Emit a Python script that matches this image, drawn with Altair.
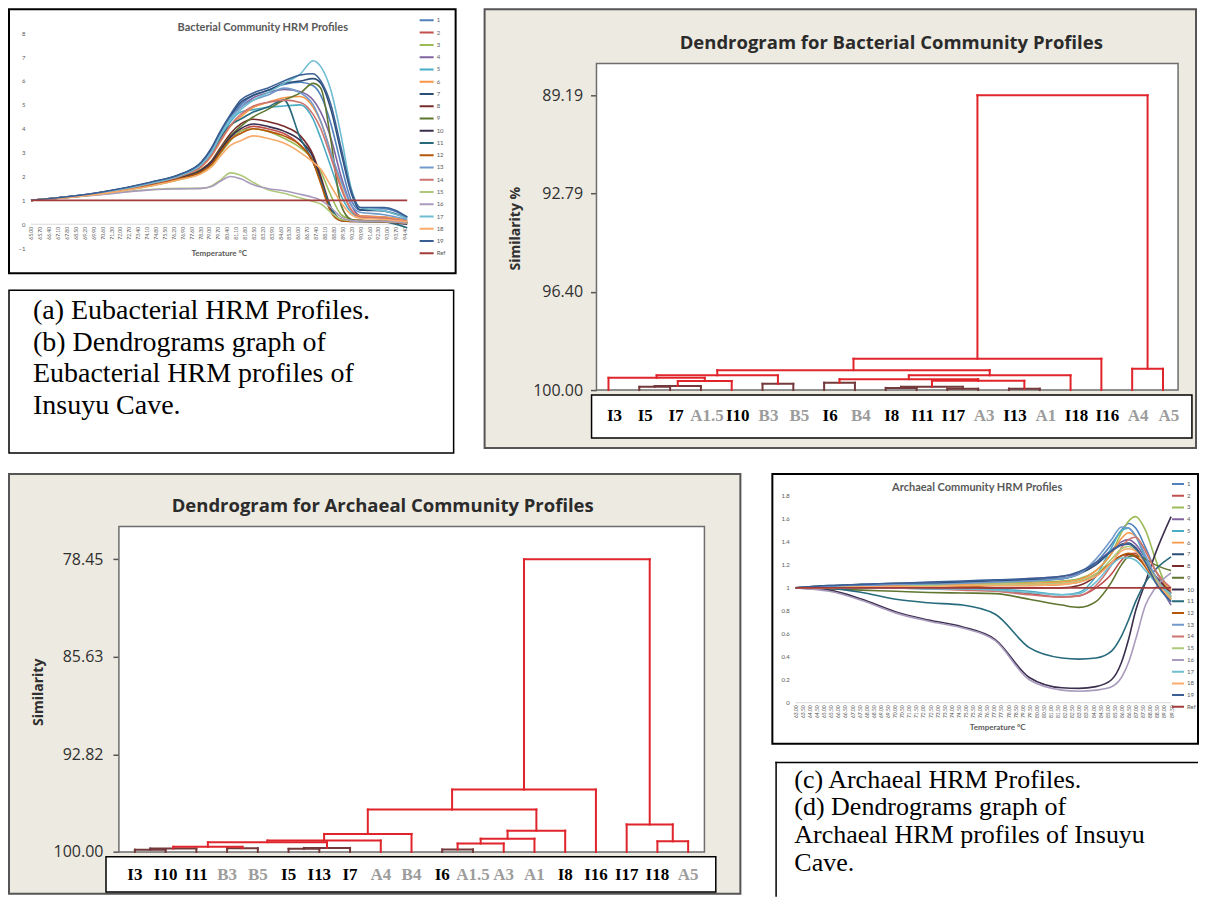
import altair as alt
import pandas as pd

# ------------------------------------------------------------------ series / colours
SERIES = ["1", "2", "3", "4", "5", "6", "7", "8", "9", "10",
          "11", "12", "13", "14", "15", "16", "17", "18", "19", "Ref"]
SERIES_COLORS = ["#4F81BD", "#C0504D", "#9BBB59", "#8064A2", "#4BACC6", "#F79646",
                 "#2C4D75", "#772C2A", "#5F7530", "#3B2F4E", "#276A7C", "#B65708",
                 "#729ACA", "#CD7371", "#AFC97A", "#A99BBD", "#6FBDD1", "#F9AB6B",
                 "#3A5F95", "#A33B3B"]

# ------------------------------------------------------------------ (a) Bacterial HRM profiles
TEMP_A = [65.0, 70.5, 74.4, 76.8, 78.4, 79.2, 79.9, 80.7, 81.5, 82.5, 83.6,
          84.9, 86.2, 87.2, 87.8, 88.6, 89.4, 90.2, 90.9, 92.8, 94.6]
BAC_1 = [1.0, 1.33, 1.74, 2.08, 2.55, 3.1, 3.8, 4.5, 5.0, 5.4, 5.6, 5.85, 5.95, 5.8, 5.4, 4.2, 2.5, 1.0, 0.6, 0.65, 0.3]
BAC_2 = [1.0, 1.28, 1.62, 1.92, 2.2, 2.5, 3.0, 3.55, 3.9, 4.1, 4.0, 3.8, 3.3, 2.6, 1.8, 0.6, 0.2, 0.15, 0.15, 0.12, 0.08]
BAC_3 = [1.0, 1.27, 1.6, 1.88, 2.15, 2.45, 2.95, 3.5, 3.9, 4.0, 3.9, 3.6, 3.2, 2.7, 2.2, 1.2, 0.4, 0.2, 0.15, 0.12, 0.05]
BAC_4 = [1.0, 1.33, 1.73, 2.06, 2.52, 3.05, 3.75, 4.45, 4.9, 5.3, 5.5, 5.65, 5.55, 5.2, 4.7, 3.6, 2.0, 0.8, 0.35, 0.3, 0.15]
BAC_5 = [1.0, 1.3, 1.7, 2.02, 2.45, 2.95, 3.6, 4.3, 4.7, 4.8, 4.9, 4.95, 5.0, 4.4, 3.6, 2.4, 1.2, 0.5, 0.3, 0.25, 0.1]
BAC_6 = [1.0, 1.3, 1.68, 2.0, 2.4, 2.85, 3.45, 4.1, 4.5, 4.9, 5.1, 5.3, 5.35, 4.9, 4.3, 3.0, 1.6, 0.6, 0.35, 0.3, 0.15]
BAC_7 = [1.0, 1.34, 1.75, 2.1, 2.58, 3.15, 3.85, 4.55, 5.1, 5.4, 5.6, 5.9, 6.0, 6.1, 5.9, 4.8, 3.0, 1.3, 0.6, 0.55, 0.25]
BAC_8 = [1.0, 1.3, 1.66, 1.96, 2.3, 2.65, 3.2, 3.8, 4.2, 4.4, 4.3, 4.1, 3.7, 2.9, 2.0, 0.7, 0.2, 0.15, 0.15, 0.12, 0.05]
BAC_9 = [1.0, 1.29, 1.65, 1.95, 2.28, 2.6, 3.15, 3.7, 4.1, 4.5, 4.8, 5.2, 5.5, 5.9, 5.7, 3.5, 0.8, 0.2, 0.15, 0.12, 0.05]
BAC_10 = [1.0, 1.3, 1.65, 1.95, 2.25, 2.6, 3.1, 3.65, 4.0, 4.2, 4.1, 3.9, 3.5, 2.8, 1.9, 0.6, 0.15, 0.12, 0.12, 0.1, 0.0]
BAC_11 = [1.0, 1.31, 1.7, 2.02, 2.45, 2.95, 3.6, 4.15, 4.4, 4.7, 4.9, 5.2, 3.6, 2.6, 1.8, 0.7, 0.2, 0.15, 0.12, 0.1, -0.15]
BAC_12 = [1.0, 1.28, 1.63, 1.92, 2.2, 2.5, 3.0, 3.55, 3.8, 4.0, 3.9, 3.7, 3.3, 2.6, 1.7, 0.5, 0.15, 0.12, 0.12, 0.1, 0.05]
BAC_13 = [1.0, 1.32, 1.72, 2.05, 2.5, 3.05, 3.75, 4.45, 4.9, 5.2, 5.4, 5.7, 5.5, 5.0, 4.3, 3.0, 1.8, 0.8, 0.5, 0.4, 0.2]
BAC_14 = [1.0, 1.31, 1.7, 2.02, 2.42, 2.9, 3.5, 4.15, 4.6, 4.95, 5.1, 5.2, 5.1, 4.6, 4.0, 2.8, 1.5, 0.6, 0.3, 0.25, 0.1]
BAC_15 = [1.0, 1.25, 1.45, 1.5, 1.5, 1.6, 1.85, 2.15, 2.05, 1.75, 1.45, 1.3, 1.1, 0.95, 0.85, 0.5, 0.2, 0.15, 0.12, 0.12, 0.05]
BAC_16 = [1.0, 1.24, 1.44, 1.48, 1.5, 1.58, 1.8, 2.0, 1.9, 1.65, 1.5, 1.4, 1.25, 1.12, 1.0, 0.7, 0.3, 0.15, 0.12, 0.12, 0.05]
BAC_17 = [1.0, 1.32, 1.72, 2.05, 2.5, 3.0, 3.7, 4.4, 4.8, 5.2, 5.5, 5.9, 6.3, 6.85, 6.6, 5.6, 3.7, 1.5, 0.7, 0.55, 0.25]
BAC_18 = [1.0, 1.27, 1.6, 1.88, 2.12, 2.4, 2.85, 3.3, 3.5, 3.7, 3.6, 3.4, 3.0, 2.6, 2.3, 1.6, 0.9, 0.4, 0.25, 0.2, 0.1]
BAC_19 = [1.0, 1.34, 1.76, 2.1, 2.6, 3.2, 3.9, 4.6, 5.2, 5.5, 5.7, 6.0, 6.25, 6.3, 6.0, 5.0, 3.2, 1.4, 0.7, 0.7, 0.3]
BAC_REF = [1.0, 1.0, 1.0, 1.0, 1.0, 1.0, 1.0, 1.0, 1.0, 1.0, 1.0, 1.0, 1.0, 1.0, 1.0, 1.0, 1.0, 1.0, 1.0, 1.0, 1.0]
TICKS_A = [65.00, 65.70, 66.40, 67.10, 67.80, 68.50, 69.20, 69.90, 70.60, 71.30, 72.00,
           72.70, 73.40, 74.10, 74.80, 75.50, 76.20, 76.90, 77.60, 78.30, 79.00, 79.70,
           80.40, 81.10, 81.80, 82.50, 83.20, 83.90, 84.60, 85.30, 86.00, 86.70, 87.40,
           88.10, 88.80, 89.50, 90.20, 90.90, 91.60, 92.30, 93.00, 93.70, 94.40]
YTICKS_A = [-1, 0, 1, 2, 3, 4, 5, 6, 7, 8]

# ------------------------------------------------------------------ (c) Archaeal HRM profiles
TEMP_D = [63.0, 65.4, 67.7, 70.1, 72.4, 74.8, 77.1, 79.5, 81.8, 83.0, 84.2,
          85.3, 86.0, 86.5, 87.0, 87.7, 88.4, 89.5]
ARC_1 = [1.0, 1.01, 1.02, 1.03, 1.03, 1.04, 1.05, 1.06, 1.08, 1.12, 1.22, 1.38, 1.50, 1.56, 1.52, 1.35, 1.15, 0.95]
ARC_2 = [1.0, 1.0, 1.0, 1.0, 1.0, 0.99, 0.98, 0.95, 0.92, 0.93, 1.0, 1.12, 1.24, 1.29, 1.3, 1.22, 1.1, 0.97]
ARC_3 = [1.0, 1.01, 1.02, 1.02, 1.03, 1.03, 1.04, 1.05, 1.06, 1.08, 1.15, 1.30, 1.48, 1.58, 1.62, 1.50, 1.25, 0.90]
ARC_4 = [1.0, 1.01, 1.02, 1.03, 1.04, 1.05, 1.06, 1.08, 1.1, 1.13, 1.22, 1.33, 1.40, 1.42, 1.38, 1.25, 1.08, 0.85]
ARC_5 = [1.0, 1.0, 1.0, 1.0, 1.0, 1.0, 0.99, 0.97, 0.94, 0.96, 1.1, 1.35, 1.50, 1.52, 1.45, 1.25, 1.05, 0.88]
ARC_6 = [1.0, 1.01, 1.01, 1.02, 1.02, 1.03, 1.03, 1.04, 1.05, 1.07, 1.15, 1.30, 1.43, 1.48, 1.45, 1.32, 1.15, 0.98]
ARC_7 = [1.0, 1.02, 1.03, 1.04, 1.04, 1.05, 1.06, 1.07, 1.08, 1.12, 1.2, 1.32, 1.38, 1.39, 1.35, 1.22, 1.08, 0.92]
ARC_8 = [1.0, 1.0, 1.0, 1.0, 1.0, 1.0, 1.0, 1.0, 1.0, 1.02, 1.1, 1.22, 1.28, 1.29, 1.27, 1.2, 1.1, 0.95]
ARC_9 = [1.0, 0.99, 0.98, 0.97, 0.96, 0.955, 0.95, 0.9, 0.85, 0.83, 0.88, 1.05, 1.2, 1.27, 1.28, 1.25, 1.2, 1.15]
ARC_10 = [1.0, 0.98, 0.9, 0.79, 0.72, 0.66, 0.55, 0.22, 0.13, 0.125, 0.14, 0.2, 0.35, 0.55, 0.8, 1.05, 1.3, 1.62]
ARC_11 = [1.0, 0.995, 0.96, 0.9, 0.87, 0.85, 0.77, 0.48, 0.39, 0.38, 0.39, 0.45, 0.58, 0.72, 0.88, 1.05, 1.16, 1.27]
ARC_12 = [1.0, 1.0, 1.0, 1.01, 1.01, 1.01, 1.02, 1.02, 1.03, 1.05, 1.12, 1.22, 1.28, 1.3, 1.28, 1.18, 1.05, 0.9]
ARC_13 = [1.0, 1.01, 1.02, 1.03, 1.03, 1.04, 1.05, 1.06, 1.08, 1.12, 1.25, 1.42, 1.53, 1.52, 1.45, 1.28, 1.1, 0.93]
ARC_14 = [1.0, 1.0, 1.0, 1.0, 0.99, 0.98, 0.97, 0.94, 0.92, 0.93, 1.02, 1.2, 1.35, 1.42, 1.44, 1.32, 1.15, 1.0]
ARC_15 = [1.0, 1.0, 1.01, 1.01, 1.02, 1.02, 1.03, 1.03, 1.04, 1.06, 1.12, 1.25, 1.34, 1.36, 1.33, 1.22, 1.08, 0.92]
ARC_16 = [1.0, 0.97, 0.89, 0.78, 0.71, 0.65, 0.54, 0.2, 0.11, 0.1, 0.11, 0.14, 0.22, 0.35, 0.55, 0.85, 1.0, 1.13]
ARC_17 = [1.0, 1.0, 1.0, 1.0, 0.99, 0.99, 0.98, 0.96, 0.94, 0.95, 1.05, 1.2, 1.26, 1.26, 1.24, 1.15, 1.05, 0.95]
ARC_18 = [1.0, 1.0, 1.01, 1.01, 1.01, 1.02, 1.02, 1.02, 1.03, 1.05, 1.1, 1.22, 1.32, 1.34, 1.32, 1.2, 1.06, 0.9]
ARC_19 = [1.0, 1.02, 1.03, 1.04, 1.05, 1.06, 1.07, 1.08, 1.1, 1.14, 1.22, 1.32, 1.37, 1.38, 1.34, 1.22, 1.05, 0.88]
ARC_REF = [1.0, 1.0, 1.0, 1.0, 1.0, 1.0, 1.0, 1.0, 1.0, 1.0, 1.0, 1.0, 1.0, 1.0, 1.0, 1.0, 1.0, 1.0]
TICKS_D = [63.0, 63.5, 64.0, 64.5, 65.0, 65.5, 66.0, 66.5, 67.0, 67.5, 68.0, 68.5, 69.0, 69.5,
           70.0, 70.5, 71.0, 71.5, 72.0, 72.5, 73.0, 73.5, 74.0, 74.5, 75.0, 75.5, 76.0, 76.5,
           77.0, 77.5, 78.0, 78.5, 79.0, 79.5, 80.0, 80.5, 81.0, 81.5, 82.0, 82.5, 83.0, 83.5,
           84.0, 84.5, 85.0, 85.5, 86.0, 86.5, 87.0, 87.5, 88.0, 88.5, 89.0, 89.5]
YTICKS_D = [0, 0.2, 0.4, 0.6, 0.8, 1, 1.2, 1.4, 1.6, 1.8]

# ------------------------------------------------------------------ (b) Bacterial dendrogram
BAC_LEAVES = ["I3", "I5", "I7", "A1.5", "I10", "B3", "B5", "I6", "B4", "I8",
              "I11", "I17", "A3", "I13", "A1", "I18", "I16", "A4", "A5"]
BAC_LEFT = ["I5", "#0", "#1", "I3", "B3", "#3", "I6", "I8", "I17", "#7",
            "I13", "#9", "#6", "#12", "#5", "#14", "A4", "#15"]
BAC_RIGHT = ["I7", "A1.5", "I10", "#2", "B5", "#4", "B4", "I11", "A3", "#8",
             "A1", "#10", "#11", "I18", "#13", "I16", "A5", "#16"]
BAC_HEIGHT = [99.88, 99.85, 99.67, 99.55, 99.77, 99.46, 99.73, 99.92, 99.95, 99.88,
              99.95, 99.66, 99.60, 99.46, 99.27, 98.85, 99.22, 89.19]
BAC_YTICKS = [89.19, 92.79, 96.40, 100.00]

# ------------------------------------------------------------------ (d) Archaeal dendrogram
ARC_LEAVES = ["I3", "I10", "I11", "B3", "B5", "I5", "I13", "I7", "A4", "B4",
              "I6", "A1.5", "A3", "A1", "I8", "I16", "I17", "I18", "A5"]
ARC_LEFT = ["I3", "#0", "B3", "#1", "I5", "#4", "#3", "#6", "#7", "I6",
            "#9", "#10", "#11", "#8", "#13", "I18", "I17", "#14"]
ARC_RIGHT = ["I10", "I11", "B5", "#2", "I13", "I7", "#5", "A4", "B4", "A1.5",
             "A3", "A1", "I8", "#12", "I16", "A5", "#15", "#16"]
ARC_HEIGHT = [99.83, 99.75, 99.72, 99.62, 99.77, 99.70, 99.28, 99.16, 98.67, 99.82,
              99.38, 99.02, 98.43, 96.88, 95.41, 99.22, 97.97, 78.45]
ARC_YTICKS = [78.45, 85.63, 92.82, 100.00]

TEXT_AB = ["(a) Eubacterial HRM Profiles.", "(b) Dendrograms graph of",
           "Eubacterial HRM profiles of", "Insuyu Cave."]
TEXT_CD = ["(c) Archaeal HRM Profiles.", "(d) Dendrograms graph of",
           "Archaeal HRM profiles of Insuyu", "Cave."]

RED = "#E0242B"
DARK = "#74393B"
BEIGE = "#EDEAE1"
GREYTXT = "#595959"


# ------------------------------------------------------------------ helpers
def title_layer(text, x, y, font, size, color):
    return alt.Chart(pd.DataFrame({"s": [text]})).mark_text(
        font=font, fontSize=size, fontWeight="bold", color=color, align="center",
        baseline="middle").encode(x=alt.value(x), y=alt.value(y), text="s:N")


def hrm_chart(temps, table, w, h, xdom, ydom, xticks, yticks, yfmt, x_off, y_off,
              title, t_x, t_y, xt_x, xt_y, lg_x, lg_y, lg_h, lg_pad, lg_sym):
    rows = []
    for name, vals in zip(SERIES, table):
        for t, v in zip(temps, vals):
            rows.append({"series": name, "t": t, "v": v})
    df = pd.DataFrame(rows)
    xs = alt.Scale(domain=xdom, nice=False, zero=False)
    ys = alt.Scale(domain=ydom, nice=False, zero=False)
    xax = alt.Axis(values=xticks, format=".2f", labelAngle=270, labelFont="Lato", labelFontSize=5,
                   labelColor=GREYTXT, labelPadding=2, labelOverlap=False, offset=x_off,
                   domain=False, ticks=False, grid=False, title="Temperature °C", titleFont="Lato",
                   titleFontSize=8, titleFontWeight="bold", titleColor=GREYTXT, titleX=xt_x,
                   titleY=xt_y, titleBaseline="middle", titleAlign="center")
    yax = alt.Axis(values=yticks, format=yfmt, labelFont="Lato", labelFontSize=6, labelColor=GREYTXT,
                   labelPadding=3, offset=y_off, domain=False, ticks=False, grid=False, title=None)
    base = alt.Chart(pd.DataFrame({"t": [temps[0]], "t2": [temps[-1]], "v": [0.0]})).mark_rule(
        color="#D9D9D9", strokeWidth=1).encode(
        x=alt.X("t:Q", scale=xs, axis=xax), x2="t2:Q",
        y=alt.Y("v:Q", scale=ys, axis=yax))
    lines = alt.Chart(df).mark_line(interpolate="monotone", strokeWidth=1.6).encode(
        x=alt.X("t:Q", scale=xs, axis=xax),
        y=alt.Y("v:Q", scale=ys, axis=yax),
        color=alt.Color("series:N", scale=alt.Scale(domain=SERIES, range=SERIES_COLORS),
                        legend=alt.Legend(orient="none", legendX=lg_x, legendY=lg_y, title=None,
                                          direction="vertical", symbolType="stroke",
                                          symbolSize=lg_sym, symbolStrokeWidth=2, labelFont="Lato",
                                          labelFontSize=6, labelColor=GREYTXT, labelOffset=2,
                                          rowPadding=lg_pad, clipHeight=lg_h, padding=0)),
    )
    ttl = title_layer(title, t_x, t_y, "Lato", 11, GREYTXT)
    return alt.layer(base, lines, ttl).properties(
        width=w, height=h,
        view=alt.ViewBackground(fill="white", stroke="black", strokeWidth=2))


def dendro_chart(leaves, left, right, heights, w, h, xdom, ydom, frame, lbox, lab_y, lab_dx,
                 yticks, y_off, lab_pad, ytitle, yt_x, yt_y, title, t_x, t_y):
    pos = {n: float(i) for i, n in enumerate(leaves)}
    hgt = {n: 100.0 for n in leaves}
    seg = []
    for k, (a, b, hh) in enumerate(zip(left, right, heights)):
        col = DARK if hh >= 99.7 else RED
        seg.append({"x": pos[a], "x2": pos[a], "y": hgt[a], "y2": hh, "c": col})
        seg.append({"x": pos[b], "x2": pos[b], "y": hgt[b], "y2": hh, "c": col})
        seg.append({"x": pos[a], "x2": pos[b], "y": hh, "y2": hh, "c": col})
        pos["#%d" % k] = (pos[a] + pos[b]) / 2.0
        hgt["#%d" % k] = hh
    seg = pd.DataFrame(seg)
    xs = alt.Scale(domain=xdom, nice=False, zero=False)
    ys = alt.Scale(domain=ydom, nice=False, zero=False, reverse=True)
    yax = alt.Axis(values=yticks, format=".2f", offset=y_off, domain=False, grid=False, ticks=True,
                   tickSize=6, tickColor="#555555", tickWidth=1.5, labelFont="Open Sans",
                   labelFontSize=16, labelColor="#303030", labelPadding=lab_pad, labelOverlap=False,
                   title=ytitle, titleFont="Open Sans", titleFontSize=14, titleFontWeight="bold",
                   titleColor="#303030", titleX=yt_x, titleY=yt_y, titleAlign="center",
                   titleBaseline="middle")
    fr = alt.Chart(pd.DataFrame([{"x": frame[0], "x2": frame[1], "y": frame[2], "y2": frame[3]}])).mark_rect(
        fill="white", stroke="#6E6E6E", strokeWidth=1.5).encode(
        x=alt.X("x:Q", scale=xs, axis=None), x2="x2:Q",
        y=alt.Y("y:Q", scale=ys, axis=yax), y2="y2:Q")
    links = alt.Chart(seg).mark_rule(strokeWidth=2, strokeCap="square").encode(
        x=alt.X("x:Q", scale=xs, axis=None), x2="x2:Q",
        y=alt.Y("y:Q", scale=ys, axis=yax), y2="y2:Q",
        color=alt.Color("c:N", scale=None))
    lb = alt.Chart(pd.DataFrame([{"x": lbox[0], "x2": lbox[1], "y": lbox[2], "y2": lbox[3]}])).mark_rect(
        fill="white", stroke="black", strokeWidth=1.5).encode(
        x=alt.X("x:Q", scale=xs, axis=None), x2="x2:Q",
        y=alt.Y("y:Q", scale=ys, axis=yax), y2="y2:Q")
    labdf = pd.DataFrame({"x": [float(i) for i in range(len(leaves))], "y": lab_y,
                          "name": leaves,
                          "c": ["#000000" if n.startswith("I") else "#9C9C9C" for n in leaves]})
    labs = alt.Chart(labdf).mark_text(font="Liberation Serif", fontSize=17, fontWeight="bold",
                                      baseline="middle", align="center", dx=lab_dx).encode(
        x=alt.X("x:Q", scale=xs, axis=None), y=alt.Y("y:Q", scale=ys, axis=yax),
        text="name:N", color=alt.Color("c:N", scale=None))
    ttl = title_layer(title, t_x, t_y, "Open Sans", 18.5, "#2B2B2B")
    return alt.layer(fr, links, lb, labs, ttl).properties(
        width=w, height=h,
        view=alt.ViewBackground(fill=BEIGE, stroke="#555555", strokeWidth=2))


def text_box(lines, w, h, ydom, size, x_left, full_border):
    df = pd.DataFrame({"i": list(range(len(lines))), "s": lines})
    txt = alt.Chart(df).mark_text(font="Liberation Serif", fontSize=size, align="left",
                                  baseline="middle", color="black").encode(
        x=alt.value(x_left),
        y=alt.Y("i:Q", scale=alt.Scale(domain=ydom, reverse=True, nice=False, zero=False), axis=None),
        text="s:N")
    if full_border:
        return txt.properties(width=w, height=h,
                              view=alt.ViewBackground(fill="white", stroke="black", strokeWidth=1.5))
    one = pd.DataFrame({"k": [0]})
    top = alt.Chart(one).mark_rule(color="black", strokeWidth=1.5).encode(
        x=alt.value(3), x2=alt.value(w), y=alt.value(0.75))
    lft = alt.Chart(one).mark_rule(color="black", strokeWidth=1.5).encode(
        x=alt.value(3.75), y=alt.value(0), y2=alt.value(h))
    return alt.layer(top, lft, txt).properties(
        width=w, height=h, view=alt.ViewBackground(fill="white", stroke="transparent"))


# ------------------------------------------------------------------ panels
chart_a = hrm_chart(TEMP_A,
                    [BAC_1, BAC_2, BAC_3, BAC_4, BAC_5, BAC_6, BAC_7, BAC_8, BAC_9, BAC_10,
                     BAC_11, BAC_12, BAC_13, BAC_14, BAC_15, BAC_16, BAC_17, BAC_18, BAC_19, BAC_REF],
                    447, 264, [63.27, 98.41], [-2.05, 9.0], TICKS_A, YTICKS_A, "d", -48.8, -19,
                    "Bacterial Community HRM Profiles", 254, 19, 210, 29, 410, 5.0, 12, 0.27, 196)

chart_d = hrm_chart(TEMP_D,
                    [ARC_1, ARC_2, ARC_3, ARC_4, ARC_5, ARC_6, ARC_7, ARC_8, ARC_9, ARC_10,
                     ARC_11, ARC_12, ARC_13, ARC_14, ARC_15, ARC_16, ARC_17, ARC_18, ARC_19, ARC_REF],
                    426, 270, [61.379, 91.40], [-0.357, 1.991], TICKS_D, YTICKS_D, "~g", -41, -20,
                    "Archaeal Community HRM Profiles", 205, 14, 225, 25, 399, 4.5, 11, 0.74, 144)

chart_b = dendro_chart(BAC_LEAVES, BAC_LEFT, BAC_RIGHT, BAC_HEIGHT, 712, 439,
                       [-4.022, 19.072], [86.039, 102.125], (-0.39, 18.49, 88.02, 100.0),
                       (-0.55, 18.94, 100.18, 101.76), 100.95, 6, BAC_YTICKS, -112, 8,
                       "Similarity %", -81, 219,
                       "Dendrogram for Bacterial Community Profiles", 407, 34)

chart_c = dendro_chart(ARC_LEAVES, ARC_LEFT, ARC_RIGHT, ARC_HEIGHT, 732, 420,
                       [-4.096, 19.70], [72.176, 103.067], (-0.52, 18.53, 76.05, 100.0),
                       (-0.94, 18.9, 100.35, 102.95), 101.7, 0, ARC_YTICKS, -110, 10,
                       "Similarity", -80, 218,
                       "Dendrogram for Archaeal Community Profiles", 374, 32)

box_ab = text_box(TEXT_AB, 445, 163, [-0.663, 4.484], 28, 24, True)
box_cd = text_box(TEXT_CD, 426, 135, [-0.65, 4.22], 26, 22, False)


def indep(c):
    return c.resolve_scale(color="independent", x="independent", y="independent").resolve_legend(
        color="independent")


left_top = indep(alt.vconcat(chart_a, box_ab, spacing=15))
top_row = indep(alt.hconcat(left_top, chart_b, spacing=27))
right_bottom = indep(alt.vconcat(chart_d, box_cd, spacing=15))
bottom_row = indep(alt.hconcat(chart_c, right_bottom, spacing=30))

chart = indep(alt.vconcat(top_row, bottom_row, spacing=19)).properties(
    padding=0, background="white"
).configure_view(stroke="transparent")

chart.save("out.html", embed_options={"renderer": "svg", "actions": False})
